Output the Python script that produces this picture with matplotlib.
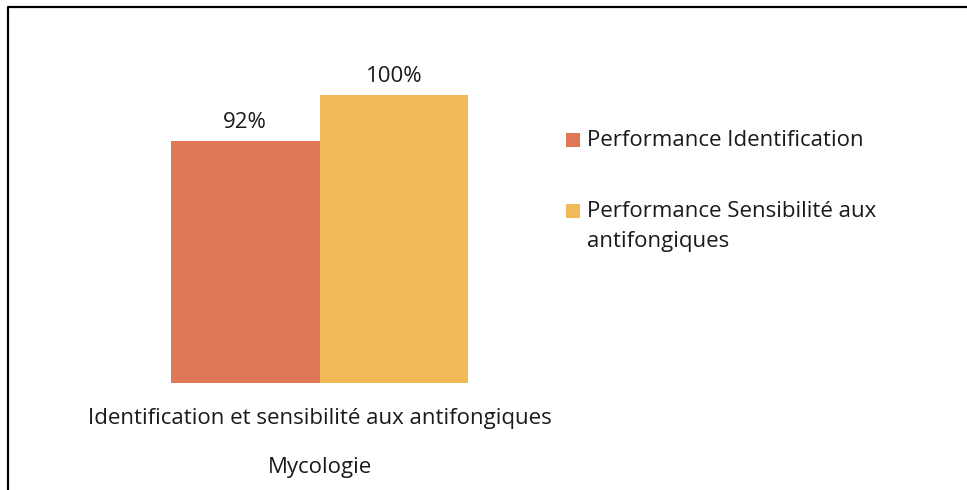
import matplotlib.pyplot as plt
from matplotlib.lines import Line2D
from matplotlib.patches import Rectangle

plt.rcParams['font.family'] = ['Open Sans', 'DejaVu Sans']

# Data
series = ['Performance Identification', 'Performance Sensibilité aux\nantifongiques']
values = [92, 100]
labels = ['92%', '100%']
colors = ['#E07857', '#F0BA59']
category = 'Identification et sensibilité aux antifongiques'
axis_title = 'Mycologie'

W, H = 967, 490
FS = 16
TXT = '#1a1a1a'
fig = plt.figure(figsize=(W / 100, H / 100), dpi=100)
fig.patch.set_facecolor('white')

# plot area placed in pixel coordinates
x0, x1 = 171, 468
y_bottom, y_top = 383, 37.4
ax = fig.add_axes([x0 / W, 1 - y_bottom / H, (x1 - x0) / W, (y_bottom - y_top) / H])

positions = [0, 1]
bars = ax.bar(positions, [v - 50 for v in values], width=1.0, bottom=50,
              color=colors, align='center')
ax.set_xlim(-0.5, 1.5)
ax.set_ylim(50, 110)

for b, v, t in zip(bars, values, labels):
    ax.annotate(t, (b.get_x() + b.get_width() / 2, v), xytext=(0, 6),
                textcoords='offset points', ha='center', va='bottom',
                fontsize=FS, color=TXT)

ax.axis('off')

fig.text(320 / W, 1 - 418 / H, category, ha='center', va='center',
         fontsize=FS, color=TXT)
fig.text(320 / W, 1 - 467 / H, axis_title, ha='center', va='center',
         fontsize=FS, color=TXT)

# legend drawn by hand: square marker aligned with the first text line
entry_y = [140, 211]
line_step = 31
for name, col, yc in zip(series, colors, entry_y):
    fig.add_artist(Rectangle((566 / W, 1 - (yc + 7) / H), 14 / W, 14 / H,
                             transform=fig.transFigure, facecolor=col, edgecolor='none'))
    for i, line in enumerate(name.split('\n')):
        fig.text(587 / W, 1 - (yc + i * line_step) / H, line, ha='left', va='center',
                 fontsize=FS, color=TXT)

# outer border (left and top only)
bx = 7.5 / W
by = 1 - 7.5 / H
fig.add_artist(Line2D([bx, bx, 1], [0, by, by], transform=fig.transFigure,
                      color='black', linewidth=1.6))

fig.savefig('out.png', dpi=100, facecolor='white')
